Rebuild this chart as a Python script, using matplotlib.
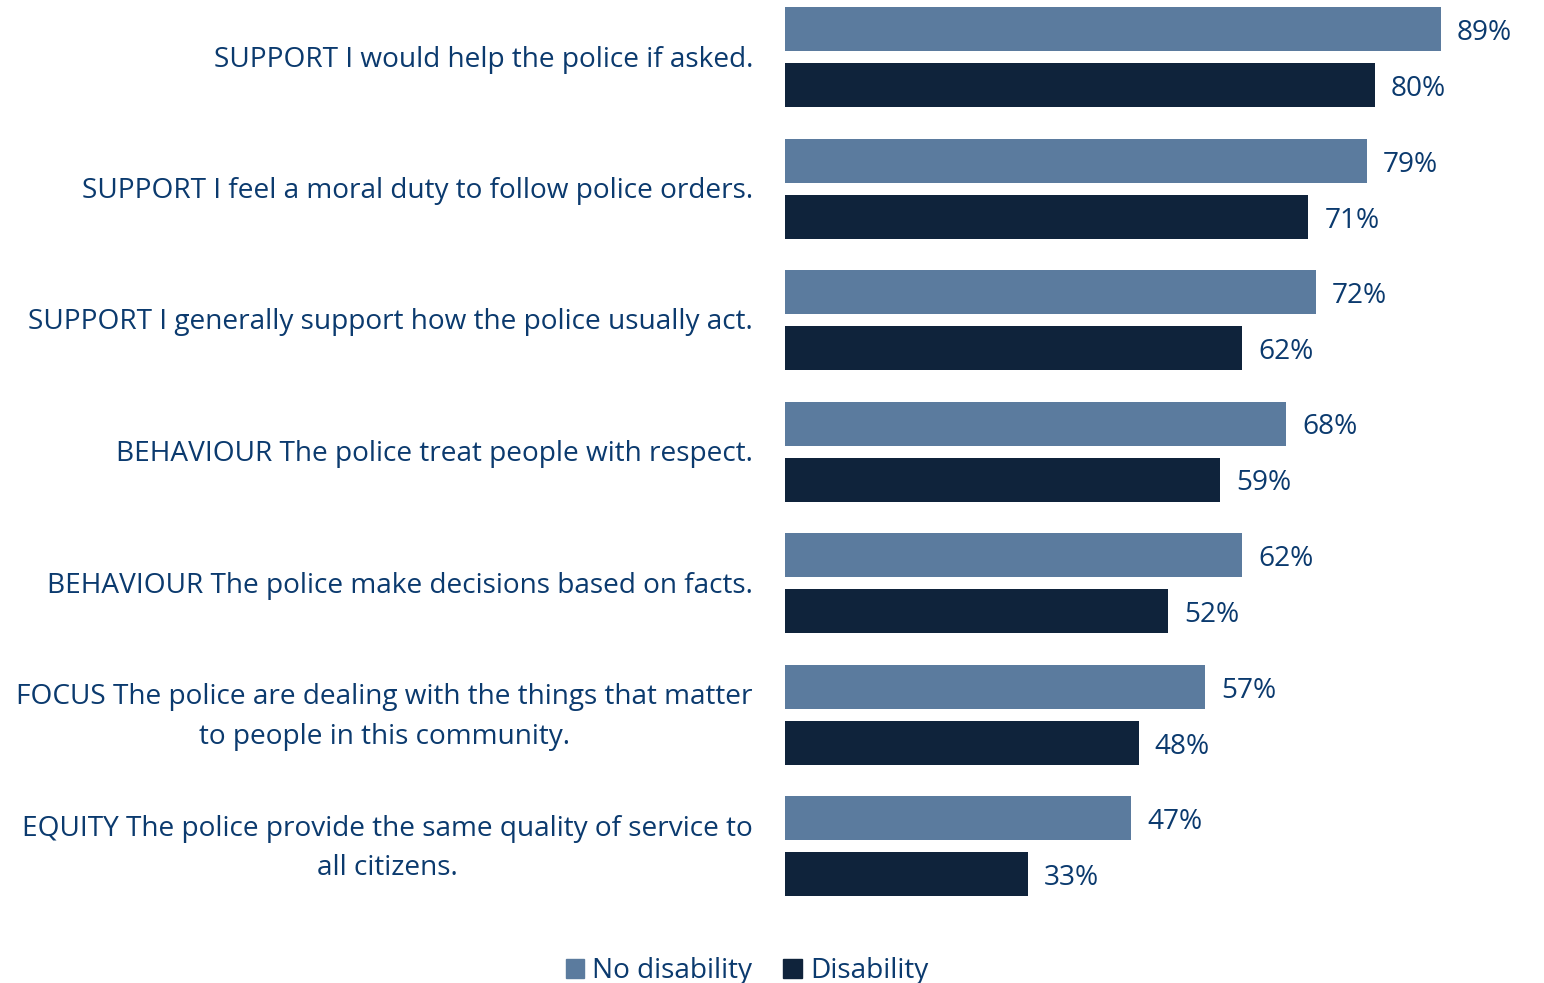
import matplotlib
matplotlib.use("Agg")
import matplotlib.pyplot as plt
from matplotlib.patches import Patch

categories = [
    "SUPPORT I would help the police if asked.",
    "SUPPORT I feel a moral duty to follow police orders.",
    "SUPPORT I generally support how the police usually act.",
    "BEHAVIOUR The police treat people with respect.",
    "BEHAVIOUR The police make decisions based on facts.",
    "FOCUS The police are dealing with the things that matter\nto people in this community.",
    "EQUITY The police provide the same quality of service to\nall citizens.",
]
no_disability = [89, 79, 72, 68, 62, 57, 47]
disability = [80, 71, 62, 59, 52, 48, 33]
series_names = ["No disability", "Disability"]

LIGHT = "#5B7B9E"
DARK = "#0F233B"
TEXT = "#0B3A6E"

plt.rcParams['font.family'] = ['Open Sans', 'DejaVu Sans']
FS = 20.2

W, H = 1544, 983
fig = plt.figure(figsize=(W / 100, H / 100), dpi=100)
ax = fig.add_axes([785 / W, (H - 912) / H, (W - 785) / W, 912 / H])

n = len(categories)
pitch = 131.5
pxx = 7.37
bh = 44 / pitch
off = 28 / pitch
ys = list(range(n))
y_light = [y - off for y in ys]
y_dark = [y + off for y in ys]

ax.barh(y_light, no_disability, height=bh, color=LIGHT)
ax.barh(y_dark, disability, height=bh, color=DARK)

ax.set_xlim(0, (W - 785) / pxx)
ax.set_ylim((912 - 57) / pitch, -57 / pitch)
ax.axis("off")

dy = 4 / pitch
for y, v in zip(y_light, no_disability):
    ax.text(v + 16 / pxx, y + dy, f"{v}%", va="center", ha="left", color=TEXT, fontsize=FS)
for y, v in zip(y_dark, disability):
    ax.text(v + 16 / pxx, y + dy, f"{v}%", va="center", ha="left", color=TEXT, fontsize=FS)

dyc = 2.5 / pitch
for y, c in zip(ys, categories):
    ax.text(-32 / pxx, y + dyc, c, va="center", ha="right", multialignment="center",
            color=TEXT, fontsize=FS, linespacing=1.53)

handles = [Patch(color=LIGHT), Patch(color=DARK)]
leg = fig.legend(handles, series_names, loc="center", bbox_to_anchor=(747 / W, 1 - 971 / H),
                 ncol=2, frameon=False, fontsize=FS, handlelength=0.65, handleheight=0.65,
                 handletextpad=0.3, columnspacing=1.1)
for t in leg.get_texts():
    t.set_color(TEXT)

fig.savefig("out.png", dpi=100)
